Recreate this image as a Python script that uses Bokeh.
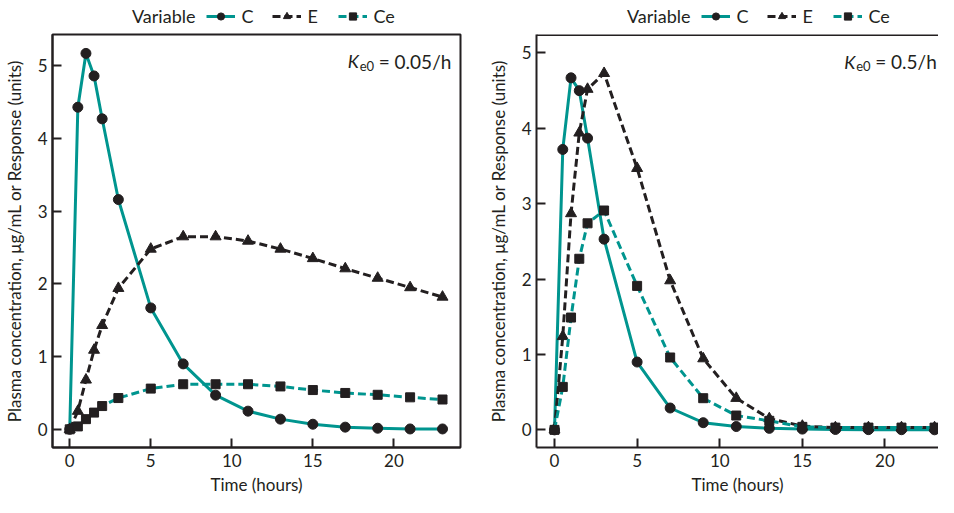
from bokeh.plotting import figure
from bokeh.models import Legend, LegendItem, Label, Range1d, FixedTicker, Span
from bokeh.layouts import row, column
from bokeh.embed import file_html
from bokeh.resources import INLINE

# ---- data ----
time_h = [0, 0.5, 1, 1.5, 2, 3, 5, 7, 9, 11, 13, 15, 17, 19, 21, 23]

# Ke0 = 0.05/h
c_slow = [0, 4.43, 5.17, 4.86, 4.27, 3.16, 1.67, 0.90, 0.47, 0.25, 0.14, 0.07, 0.03, 0.015, 0.005, 0.005]
e_slow = [0, 0.25, 0.68, 1.09, 1.43, 1.94, 2.48, 2.65, 2.65, 2.59, 2.48, 2.35, 2.21, 2.08, 1.95, 1.82]
ce_slow = [0, 0.04, 0.14, 0.23, 0.32, 0.43, 0.56, 0.62, 0.62, 0.62, 0.59, 0.54, 0.50, 0.475, 0.44, 0.41]

# Ke0 = 0.5/h
c_fast = [0, 3.72, 4.67, 4.50, 3.87, 2.53, 0.90, 0.29, 0.095, 0.044, 0.02, 0.01, 0.005, 0.003, 0.002, 0.001]
e_fast = [0, 1.24, 2.87, 3.94, 4.52, 4.73, 3.47, 1.98, 0.945, 0.42, 0.15, 0.05, 0.03, 0.03, 0.03, 0.03]
ce_fast = [0, 0.57, 1.49, 2.27, 2.74, 2.91, 1.91, 0.96, 0.42, 0.19, 0.12, 0.04, 0.03, 0.03, 0.03, 0.03]

series_names = ["C", "E", "Ce"]
legend_title = "Variable"
x_ticks = [0, 5, 10, 15, 20]
y_ticks = [0, 1, 2, 3, 4, 5]
ke0_values = ["0.05/h", "0.5/h"]

TEAL = "#00958f"
DARK = "#231f20"
FONT = "Lato"
FS = "17px"

LINE_STYLES = [dict(line_color=TEAL, line_width=3),
               dict(line_color=DARK, line_width=3, line_dash="8 4"),
               dict(line_color=TEAL, line_width=3, line_dash="8 4")]
MARKERS = [("circle", 10), ("triangle", 11), ("square", 9)]


def legend_fig(width, legend_x):
    lf = figure(width=width, height=33, output_backend="svg", toolbar_location=None,
                x_range=Range1d(0, 1), y_range=Range1d(0, 1),
                x_axis_location=None, y_axis_location=None,
                min_border_left=0, min_border_right=0, min_border_top=0, min_border_bottom=0)
    lf.grid.visible = False
    lf.outline_line_color = None
    # off-screen sample renderers that only feed the legend swatches
    dummy = lf.line([5, 6], [5, 5], line_alpha=0)
    items = [LegendItem(label=legend_title, renderers=[dummy])]
    for name, ls, (mk, sz) in zip(series_names, LINE_STYLES, MARKERS):
        r1 = lf.line([5, 6], [5, 5], **ls)
        r2 = lf.scatter([5], [5], marker=mk, size=sz, fill_color=DARK, line_color=DARK)
        items.append(LegendItem(label=name, renderers=[r1, r2]))
    leg = Legend(items=items, orientation="horizontal", location=(legend_x, 6),
                 label_text_font=FONT, label_text_font_size="18px", label_text_color=DARK,
                 glyph_width=29, glyph_height=18, label_standoff=6, spacing=11,
                 padding=0, margin=0, border_line_color=None, background_fill_alpha=0)
    lf.add_layout(leg, "center")
    return lf


def make_panel(c, e, ce, ke0, width, border_left, border_right,
               x_range, y_range, ke0_pos, full_outline):
    p = figure(width=width, height=464, output_backend="svg", toolbar_location=None,
               x_range=Range1d(*x_range), y_range=Range1d(*y_range),
               min_border_left=border_left, min_border_right=border_right,
               min_border_top=1, min_border_bottom=49)
    p.grid.visible = False
    if full_outline:
        p.outline_line_color = DARK
        p.outline_line_width = 2
    else:
        p.outline_line_color = None
        p.add_layout(Span(location=y_range[1], dimension="width",
                          line_color=DARK, line_width=3))

    for ax in (p.xaxis[0], p.yaxis[0]):
        ax.axis_line_color = DARK
        ax.axis_line_width = 2
        ax.major_tick_line_color = DARK
        ax.major_tick_line_width = 2
        ax.major_tick_in = 9
        ax.major_tick_out = 0
        ax.minor_tick_line_color = None
        ax.major_label_text_font = FONT
        ax.major_label_text_font_size = FS
        ax.major_label_text_color = DARK
        ax.axis_label_text_font = FONT
        ax.axis_label_text_font_size = FS
        ax.axis_label_text_font_style = "normal"
        ax.axis_label_text_color = DARK

    p.xaxis[0].ticker = FixedTicker(ticks=x_ticks)
    p.yaxis[0].ticker = FixedTicker(ticks=y_ticks)
    p.xaxis[0].axis_label = "Time (hours)"
    p.yaxis[0].axis_label = "Plasma concentration, μg/mL or Response (units)"
    p.xaxis[0].major_label_standoff = 6
    p.xaxis[0].axis_label_standoff = 4
    p.yaxis[0].major_label_standoff = 5
    p.yaxis[0].axis_label_standoff = 10

    for vals, ls, (mk, sz) in zip([c, e, ce], LINE_STYLES, MARKERS):
        p.line(time_h, vals, line_join="round", **ls)
        p.scatter(time_h, vals, marker=mk, size=sz, fill_color=DARK, line_color=DARK)

    kx, ky, ky_sub = ke0_pos
    p.add_layout(Label(x=kx, y=ky, text="K", text_font=FONT, text_font_size="18px",
                       text_font_style="italic", text_color=DARK, text_baseline="alphabetic"))
    p.add_layout(Label(x=kx, y=ky_sub, x_offset=12, text="e0", text_font=FONT,
                       text_font_size="13px", text_color=DARK, text_baseline="alphabetic"))
    p.add_layout(Label(x=kx, y=ky, x_offset=31, text="= " + ke0, text_font=FONT,
                       text_font_size="19px", text_color=DARK, text_baseline="alphabetic"))
    return p


left = make_panel(c_slow, e_slow, ce_slow, ke0_values[0], 480, 44, 20,
                  (-1.064, 24.11), (-0.25, 5.43), (17.15, 5.06, 5.0), True)
right = make_panel(c_fast, e_fast, ce_fast, ke0_values[1], 458, 56, 0,
                   (-1.09, 23.24), (-0.234, 5.245), (17.53, 4.885, 4.825), False)

layout = row(column(legend_fig(480, 45), left, spacing=0),
             column(legend_fig(458, 56), right, spacing=0), spacing=0)
open("out.html", "w").write(file_html(layout, INLINE))
